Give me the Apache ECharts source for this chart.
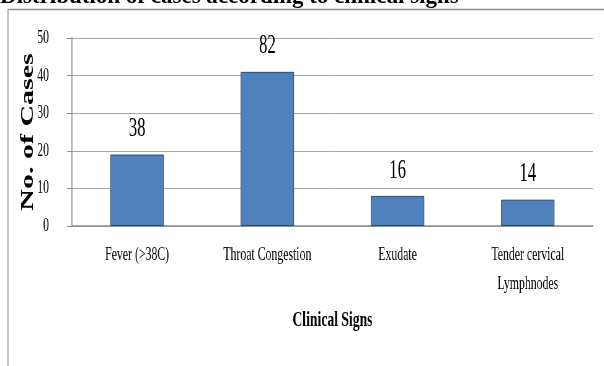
<!DOCTYPE html>
<html>
<head>
<meta charset="utf-8">
<script src="https://cdn.jsdelivr.net/npm/echarts@6/dist/echarts.min.js"></script>
<style>
  html, body { margin: 0; padding: 0; background: #fff; overflow: hidden; }
  #chart { height: 366px; transform-origin: 0 0; }
</style>
</head>
<body>
<div id="chart"></div>
<script>
// Clinical signs and number of cases
const categories = ['Fever (>38C)', 'Throat Congestion', 'Exudate', 'Tender cervical\nLymphnodes'];
const cases = [38, 82, 16, 14];
const tickLabels = ['0', '10', '20', '30', '40', '50'];

// The chart is laid out wide and squeezed horizontally to get the narrow serif look.
const S = 0.62;
const W = Math.round(604 / S);
const px = v => v / S;

const el = document.getElementById('chart');
el.style.width = W + 'px';
el.style.transform = 'scaleX(' + S + ')';

const FONT = '"Liberation Serif", "Times New Roman", serif';
const AXIS_GRAY = '#8c8c8c';
const GRID_GRAY = '#a6a6a6';

const chart = echarts.init(el, null, { renderer: 'canvas' });
chart.setOption({
  backgroundColor: '#ffffff',
  animation: false,
  grid: { left: px(72), right: px(11), top: 38, bottom: 140 },
  xAxis: {
    type: 'category',
    data: categories,
    axisLine: { lineStyle: { color: AXIS_GRAY, width: 1.5 } },
    axisTick: { length: 7, interval: 0, lineStyle: { color: AXIS_GRAY, width: 1.5 } },
    axisLabel: {
      interval: 0, margin: 15, color: '#000',
      fontFamily: FONT, fontSize: 19, lineHeight: 29
    },
    name: 'Clinical Signs',
    nameLocation: 'middle',
    nameGap: 83,
    nameMoveOverlap: false,
    nameTextStyle: { color: '#000', fontFamily: FONT, fontSize: 22, fontWeight: 'bold' }
  },
  yAxis: {
    type: 'value',
    min: 0, max: 100, interval: 20,
    axisLine: { show: true, lineStyle: { color: AXIS_GRAY, width: 1.5 } },
    axisTick: { show: true, length: px(5), lineStyle: { color: AXIS_GRAY, width: 1 } },
    splitLine: { lineStyle: { color: GRID_GRAY, width: 1 } },
    axisLabel: {
      margin: px(23), color: '#000', fontFamily: FONT, fontSize: 19,
      formatter: v => tickLabels[Math.round(v / 20)]
    },
    name: 'No. of Cases',
    nameLocation: 'middle',
    nameGap: px(29),
    nameMoveOverlap: false,
    nameTextStyle: { color: '#000', fontFamily: FONT, fontSize: 30, fontWeight: 'bold', padding: [0, 0, 9, 0] }
  },
  series: [{
    type: 'bar',
    data: cases,
    barWidth: '41%',
    itemStyle: { color: '#4f81bd', borderColor: '#2c4a70', borderWidth: 1 },
    label: {
      show: true, position: 'top', distance: 12,
      color: '#000', fontFamily: FONT, fontSize: 27
    }
  }],
  graphic: [
    {
      type: 'rect',
      silent: true,
      z: 10,
      shape: { x: px(8), y: 9.5, width: 3000, height: 3000 },
      style: { fill: 'none', stroke: AXIS_GRAY, lineWidth: 1.5 }
    },
    {
      type: 'text',
      x: 0, y: -3,
      scaleX: 1 / S,
      style: {
        text: 'Distribution of cases according to clinical signs',
        fontFamily: FONT, fontSize: 23, fontWeight: 'bold',
        fill: '#000', align: 'left', verticalAlign: 'middle'
      }
    }
  ]
});
</script>
</body>
</html>
